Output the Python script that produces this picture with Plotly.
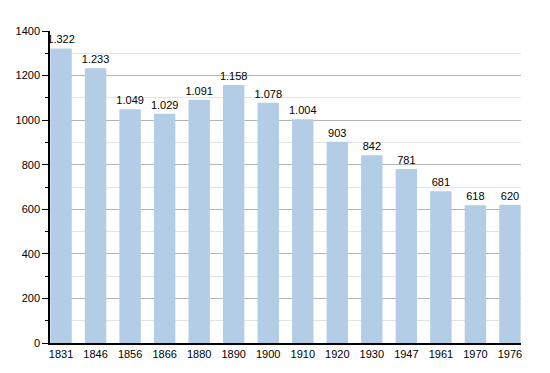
import plotly.graph_objects as go

years = ["1831", "1846", "1856", "1866", "1880", "1890", "1900", "1910", "1920", "1930", "1947", "1961", "1970", "1976"]
population = [1322, 1233, 1049, 1029, 1091, 1158, 1078, 1004, 903, 842, 781, 681, 618, 620]
labels = [f"{v:,}".replace(",", ".") for v in population]

fig = go.Figure(go.Bar(
    x=years, y=population, text=labels, textposition="outside",
    constraintext="none", hoverinfo="skip",
    textfont=dict(family="Liberation Sans, Arial, sans-serif", size=11, color="#000"),
    marker=dict(color="#b3cde6", line=dict(width=0)),
    width=0.62, cliponaxis=False,
))

fig.update_layout(
    width=550, height=373,
    margin=dict(l=50, r=29, t=31, b=30, autoexpand=False),
    paper_bgcolor="white", plot_bgcolor="white",
    font=dict(family="Liberation Sans, Arial, sans-serif", size=11, color="#000"),
    showlegend=False,
    xaxis=dict(
        type="category", range=[-0.32, 13.32], automargin=False,
        showline=True, linecolor="#000", linewidth=1.5,
        ticks="", showgrid=False, tickfont=dict(size=11),
    ),
    yaxis=dict(
        range=[0, 1400], dtick=200, showline=True, linecolor="#000", linewidth=1.5,
        automargin=False,
        ticks="outside", ticklen=6, tickcolor="#000", tickwidth=1,
        gridcolor="#b4b4b4", gridwidth=1, zeroline=False,
        minor=dict(dtick=100, showgrid=True, gridcolor="#e3e3e3", ticks="outside",
                   ticklen=3, tickcolor="#000"),
        tickfont=dict(size=11),
    ),
)

fig.write_html("out.html", config={"displayModeBar": False},
               post_script="document.body.style.margin='0';")
